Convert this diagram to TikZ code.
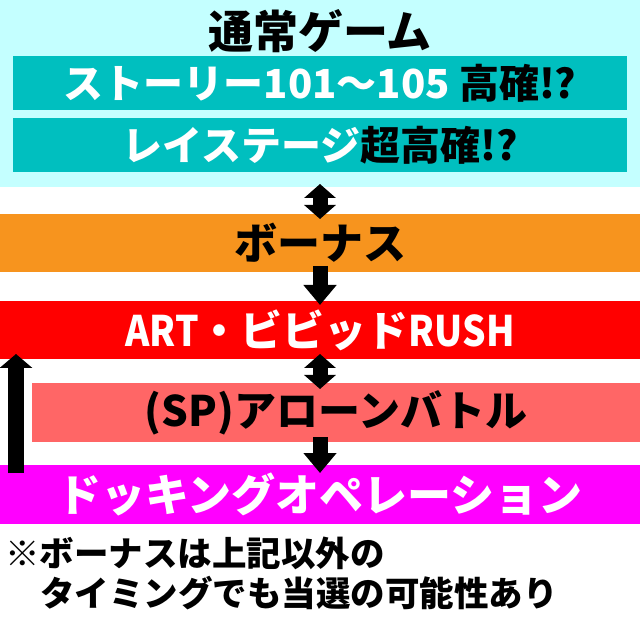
\documentclass[tikz,border=0pt]{standalone}
\usepackage{fontspec}
\newfontfamily\cjk{Noto Sans CJK JP}
\usetikzlibrary{arrows.meta}
\definecolor{cyanbg}{RGB}{196,255,255}
\definecolor{tealbox}{RGB}{0,191,191}
\definecolor{orangeband}{RGB}{247,148,30}
\definecolor{redband}{RGB}{255,0,0}
\definecolor{salmonband}{RGB}{255,102,102}
\definecolor{magband}{RGB}{255,0,255}
\tikzset{
  box/.style={inner sep=0pt, outer sep=0pt, anchor=north west, align=center},
  jp/.style={font=\cjk\bfseries\fontsize{#1}{#1}\selectfont},
  blk/.style={line width=15pt, arrows={-{Triangle[width=32pt,length=20pt]}}},
  dblk/.style={line width=15pt, arrows={{Triangle[width=31pt,length=14pt]}-{Triangle[width=31pt,length=14pt]}}},
}
\newcommand{\cond}[1]{\scalebox{0.88}[1]{#1}}
\begin{document}
\begin{tikzpicture}[x=1pt,y=1pt]
\useasboundingbox (0,0) rectangle (640,630);
\fill[white] (0,0) rectangle (640,630);
% normal game area
\node[box, fill=cyanbg, minimum width=640pt, minimum height=187pt] (bg) at (0,630) {};
\node[jp=45, text=black] (title) at (320,599) {通常ゲーム};
\node[box, fill=tealbox, minimum width=614pt, minimum height=54pt, jp=40, text=white] (story) at (13,574)
  {ストーリー101～105 \textcolor{black}{高確!?}};
\node[box, fill=tealbox, minimum width=614pt, minimum height=54pt, jp=40, text=white] (stage) at (13,512)
  {レイステージ\textcolor{black}{超高確!?}};
% bands
\node[box, fill=orangeband, minimum width=640pt, minimum height=58pt, jp=43, text=black] (bonus) at (0,416) {ボーナス};
\node[box, fill=redband, minimum width=640pt, minimum height=58pt, jp=42, text=white] (art) at (0,329) {\cond{ART}・ビビッド\cond{RUSH}};
\node[box, fill=salmonband, minimum width=608pt, minimum height=59pt, jp=42, text=black] (alone) at (32,247) {(SP)アローンバトル};
\node[box, fill=magband, minimum width=640pt, minimum height=59pt, jp=44, text=white] (dock) at (0,165) {ドッキングオペレーション};
% note
\node[anchor=west, inner sep=0pt, jp=34.5] (note1) at (5,77) {※ボーナスは上記以外の};
\node[anchor=west, inner sep=0pt, jp=34.5] (note2) at (40,37) {タイミングでも当選の可能性あり};
% arrows
\draw[dblk] ([yshift=3pt]bg.south) -- ([yshift=-5pt]bonus.north);
\draw[blk] ([yshift=6pt]bonus.south) -- ([yshift=-4pt]art.north);
\draw[dblk] ([yshift=5pt]art.south) -- ([yshift=-6pt]art.south |- alone.north);
\draw[blk] ([yshift=5pt]art.south |- alone.south) -- ([yshift=-8pt]art.south |- dock.north);
\draw[line width=16pt, arrows={-{Triangle[width=32pt,length=14pt]}}] ([xshift=16pt,yshift=-8pt]dock.north west) -- ([xshift=16pt,yshift=5pt]art.south west);
\end{tikzpicture}
\end{document}
